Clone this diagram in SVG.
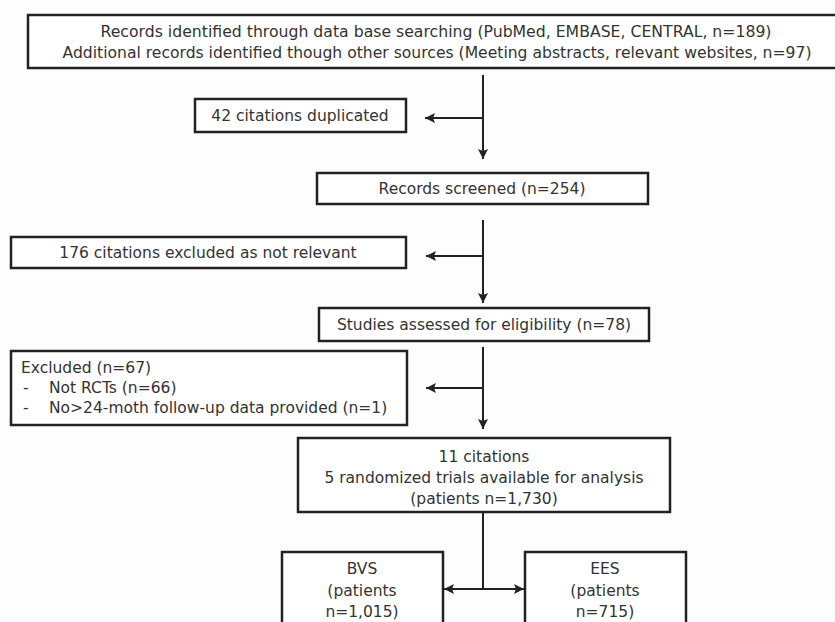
<svg xmlns="http://www.w3.org/2000/svg" width="835" height="622" viewBox="0 0 835 622">
<defs>
<style>
.box{fill:#fff;stroke:#222;stroke-width:2.5}
.t{font-family:"DejaVu Sans","Liberation Sans",sans-serif;font-size:15.5px;fill:#333}
.c{text-anchor:middle}
.ln{fill:none;stroke:#222;stroke-width:2}
</style>
<marker id="ah" viewBox="0 0 10 10" refX="10" refY="5" markerWidth="5" markerHeight="5" orient="auto" markerUnits="strokeWidth">
<path d="M0,0 L10,5 L0,10 L2,5 z" fill="#222"/>
</marker>
</defs>
<rect width="835" height="622" fill="#fdfdfd"/>
<g id="n_records">
<rect class="box" x="28" y="15" width="812" height="53"/>
<text class="t c" x="436" y="37" textLength="671" lengthAdjust="spacingAndGlyphs">Records identified through data base searching (PubMed, EMBASE, CENTRAL, n=189)</text>
<text class="t c" x="437" y="58" textLength="749" lengthAdjust="spacingAndGlyphs">Additional records identified though other sources (Meeting abstracts, relevant websites, n=97)</text>
</g>
<g id="n_dup">
<rect class="box" x="195" y="99" width="211" height="33"/>
<text class="t c" x="300" y="121">42 citations duplicated</text>
</g>
<g id="n_screened">
<rect class="box" x="317" y="173" width="331" height="31"/>
<text class="t c" x="482" y="194">Records screened (n=254)</text>
</g>
<g id="n_excl1">
<rect class="box" x="11" y="237" width="395" height="31"/>
<text class="t c" x="208" y="258">176 citations excluded as not relevant</text>
</g>
<g id="n_elig">
<rect class="box" x="319" y="308" width="330" height="33"/>
<text class="t c" x="484" y="330">Studies assessed for eligibility (n=78)</text>
</g>
<g id="n_excl2">
<rect class="box" x="11" y="351" width="396" height="74"/>
<text class="t" x="21" y="373">Excluded (n=67)</text>
<text class="t" x="23" y="393">-</text>
<text class="t" x="49" y="393">Not RCTs (n=66)</text>
<text class="t" x="23" y="413">-</text>
<text class="t" x="49" y="413">No&gt;24-moth follow-up data provided (n=1)</text>
</g>
<g id="n_included">
<rect class="box" x="298" y="438" width="372" height="74"/>
<text class="t c" x="484" y="462">11 citations</text>
<text class="t c" x="484" y="483">5 randomized trials available for analysis</text>
<text class="t c" x="484" y="504">(patients n=1,730)</text>
</g>
<g id="n_bvs">
<rect class="box" x="282" y="552" width="161" height="80"/>
<text class="t c" x="362" y="574">BVS</text>
<text class="t c" x="362" y="596">(patients</text>
<text class="t c" x="362" y="617">n=1,015)</text>
</g>
<g id="n_ees">
<rect class="box" x="525" y="552" width="161" height="80"/>
<text class="t c" x="605" y="574">EES</text>
<text class="t c" x="605" y="596">(patients</text>
<text class="t c" x="605" y="617">n=715)</text>
</g>
<g id="connectors">
<path class="ln" d="M483,75 V159" marker-end="url(#ah)"/>
<path class="ln" d="M483,118 H425" marker-end="url(#ah)"/>
<path class="ln" d="M483,220 V303" marker-end="url(#ah)"/>
<path class="ln" d="M483,256 H426" marker-end="url(#ah)"/>
<path class="ln" d="M483,347 V429" marker-end="url(#ah)"/>
<path class="ln" d="M483,388 H426" marker-end="url(#ah)"/>
<path class="ln" d="M483,512 V589"/>
<path class="ln" d="M483,589 H444" marker-end="url(#ah)"/>
<path class="ln" d="M483,589 H524" marker-end="url(#ah)"/>
</g>
</svg>
